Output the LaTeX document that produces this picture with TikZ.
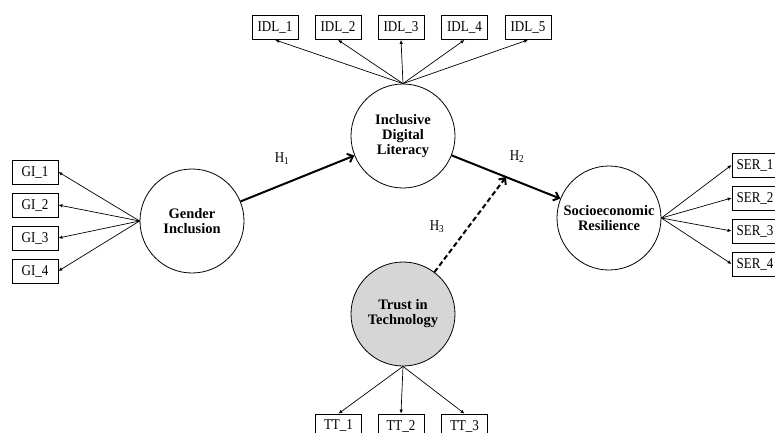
\documentclass[tikz,border=0pt]{standalone}
\usepackage{fontspec}
\setmainfont{Liberation Serif}
\newfontfamily\boxfont[FakeStretch=0.87]{Liberation Serif}
\usetikzlibrary{arrows.meta,calc}
\begin{document}
\begin{tikzpicture}[x=1pt,y=-1pt,
  lat/.style={circle,draw,line width=0.8pt,minimum size=104pt,inner sep=0pt,align=center,font=\fontsize{14.5}{15}\selectfont\bfseries},
  ind/.style={draw,line width=0.8pt,minimum width=46pt,minimum height=24pt,inner sep=0pt,font=\boxfont\fontsize{15}{15}\selectfont},
  load/.style={line width=0.7pt,-{Latex[length=4pt,width=3.5pt]}},
  path/.style={line width=2pt,-{Straight Barb[length=5pt,width=9pt,line width=2pt]}},
  hlab/.style={font=\boxfont\fontsize{15}{15}\selectfont,inner sep=0pt}]
\useasboundingbox (0,0) rectangle (775,432);
\fill[white] (0,0) rectangle (775,432);
% latent variables
\node[lat] (idl) at (403,136) {Inclusive\\Digital\\Literacy};
\node[lat] (gi) at (192,221) {Gender\\Inclusion};
\node[lat] (ser) at (609,218) {Socioeconomic\\Resilience};
\node[lat,fill=black!16] (tt) at (403,314) {Trust in\\Technology};
% indicators
\node[ind] (idl1) at (275,27.5) {IDL\_1};
\node[ind] (idl2) at (338,27.5) {IDL\_2};
\node[ind] (idl3) at (401,27.5) {IDL\_3};
\node[ind] (idl4) at (464.5,27.5) {IDL\_4};
\node[ind] (idl5) at (528,27.5) {IDL\_5};
\node[ind] (gi1) at (35,172) {GI\_1};
\node[ind] (gi2) at (35,205) {GI\_2};
\node[ind] (gi3) at (35,238) {GI\_3};
\node[ind] (gi4) at (35,271) {GI\_4};
\node[ind] (ser1) at (755,165) {SER\_1};
\node[ind] (ser2) at (755,198) {SER\_2};
\node[ind] (ser3) at (755,231) {SER\_3};
\node[ind] (ser4) at (755,264) {SER\_4};
\node[ind] (tt1) at (338.5,426) {TT\_1};
\node[ind] (tt2) at (401,426) {TT\_2};
\node[ind] (tt3) at (464.5,426) {TT\_3};
% loadings
\foreach \i in {1,...,5} \draw[load] (idl.north) -- (idl\i.south);
\foreach \i in {1,...,4} \draw[load] (gi.west) -- (gi\i.east);
\foreach \i in {1,...,4} \draw[load] (ser.east) -- (ser\i.west);
\foreach \i in {1,...,3} \draw[load] (tt.south) -- (tt\i.north);
% structural paths
\coordinate (m) at ($(idl)!0.5!(ser)$);
\draw[path] (gi) -- (idl);
\draw[path] (idl) -- (ser);
\draw[path,dashed,dash pattern=on 5pt off 3pt] (tt) -- (m);
\node[hlab] (h1) at (282,159) {H\textsubscript{1}};
\node[hlab] (h2) at (517,157) {H\textsubscript{2}};
\node[hlab] (h3) at (437,227) {H\textsubscript{3}};
\end{tikzpicture}
\end{document}
